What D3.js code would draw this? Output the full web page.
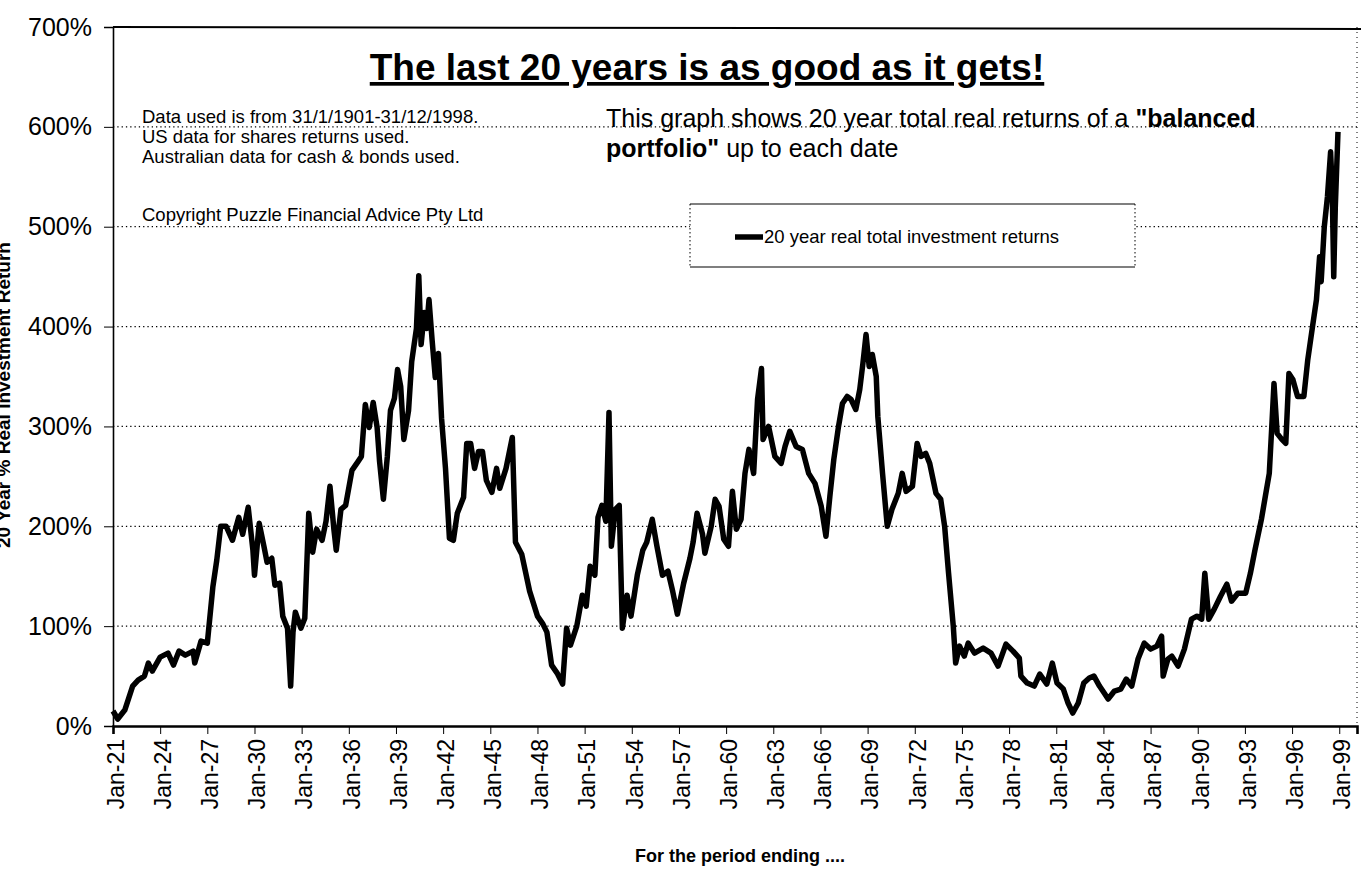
<!DOCTYPE html>
<html>
<head>
<meta charset="utf-8">
<title>The last 20 years is as good as it gets!</title>
<style>
  body { margin: 0; background: #fff; }
  svg { display: block; font-family: "Liberation Sans", Arial, sans-serif; }
  .grid line { stroke: #000; stroke-width: 1.3; stroke-dasharray: 1.3 3; }
</style>
</head>
<body>
<svg width="1361" height="874"></svg>
<script src="https://d3js.org/d3.v7.min.js"></script>
<script>
// period end (decimal year) and 20 year real total return (%)
const periodEnd = [
  1921.0, 1921.3, 1921.75, 1922.25, 1922.6, 1923.0, 1923.25, 1923.5, 1924.0, 1924.5,
  1924.85, 1925.2, 1925.6, 1926.1, 1926.2, 1926.6, 1927.0, 1927.35, 1927.6, 1927.85,
  1928.2, 1928.6, 1929.0, 1929.25, 1929.6, 1929.9, 1930.0, 1930.3, 1930.6, 1930.8,
  1931.1, 1931.3, 1931.6, 1931.8, 1932.1, 1932.3, 1932.45, 1932.6, 1932.95, 1933.2,
  1933.45, 1933.7, 1933.95, 1934.3, 1934.55, 1934.8, 1935.05, 1935.2, 1935.5, 1935.8,
  1936.2, 1936.55, 1936.8, 1937.05, 1937.3, 1937.55, 1937.8, 1937.95, 1938.2, 1938.45,
  1938.65, 1938.9, 1939.1, 1939.3, 1939.5, 1939.8, 1940.0, 1940.3, 1940.45, 1940.6,
  1940.8, 1940.95, 1941.1, 1941.3, 1941.5, 1941.7, 1941.9, 1942.15, 1942.4, 1942.65,
  1942.9, 1943.3, 1943.5, 1943.75, 1944.0, 1944.25, 1944.5, 1944.75, 1945.1, 1945.4,
  1945.6, 1946.0, 1946.4, 1946.6, 1947.0, 1947.5, 1948.0, 1948.35, 1948.6, 1948.9,
  1949.25, 1949.6, 1949.85, 1950.1, 1950.5, 1950.85, 1951.1, 1951.35, 1951.65, 1951.85,
  1952.1, 1952.35, 1952.55, 1952.7, 1952.95, 1953.2, 1953.4, 1953.7, 1953.95, 1954.35,
  1954.7, 1954.95, 1955.3, 1955.6, 1955.95, 1956.3, 1956.6, 1956.9, 1957.3, 1957.7,
  1957.9, 1958.15, 1958.5, 1958.65, 1959.05, 1959.3, 1959.55, 1959.85, 1960.15, 1960.4,
  1960.65, 1960.95, 1961.2, 1961.45, 1961.75, 1962.0, 1962.25, 1962.35, 1962.7, 1963.1,
  1963.5, 1963.75, 1964.05, 1964.45, 1964.85, 1965.25, 1965.65, 1966.05, 1966.35, 1966.6,
  1966.85, 1967.15, 1967.4, 1967.7, 1967.95, 1968.25, 1968.5, 1968.7, 1968.9, 1969.1,
  1969.3, 1969.55, 1969.65, 1969.95, 1970.25, 1970.55, 1970.95, 1971.2, 1971.45, 1971.85,
  1972.15, 1972.4, 1972.7, 1972.95, 1973.35, 1973.65, 1973.9, 1974.15, 1974.45, 1974.6,
  1974.85, 1975.15, 1975.4, 1975.8, 1976.35, 1976.85, 1977.3, 1977.8, 1978.25, 1978.65,
  1978.75, 1979.15, 1979.6, 1979.95, 1980.4, 1980.75, 1981.05, 1981.45, 1981.75, 1982.05,
  1982.4, 1982.75, 1983.1, 1983.4, 1983.75, 1984.05, 1984.3, 1984.7, 1985.1, 1985.45,
  1985.8, 1986.2, 1986.6, 1987.0, 1987.4, 1987.7, 1987.8, 1988.1, 1988.35, 1988.75,
  1989.15, 1989.6, 1989.95, 1990.25, 1990.45, 1990.7, 1991.05, 1991.45, 1991.85, 1992.15,
  1992.55, 1993.05, 1993.35, 1993.65, 1994.05, 1994.3, 1994.55, 1994.7, 1994.85, 1995.05,
  1995.35, 1995.6, 1995.8, 1996.05, 1996.35, 1996.75, 1997.0, 1997.3, 1997.55, 1997.75,
  1997.85, 1998.05, 1998.25, 1998.45, 1998.55, 1998.65, 1998.75, 1998.92
];
const realReturn = [
  15, 7, 16, 40, 46, 50, 63, 55, 69, 73,
  61, 75, 71, 75, 63, 85, 83, 139, 166, 200,
  200, 186, 209, 192, 219, 176, 151, 203, 180, 164,
  168, 141, 143, 110, 98, 40, 94, 114, 98, 108,
  213, 174, 197, 186, 205, 240, 197, 176, 217, 221,
  256, 264, 270, 322, 299, 324, 299, 266, 227, 270,
  316, 328, 357, 340, 287, 316, 365, 398, 451, 382,
  414, 398, 427, 386, 349, 373, 308, 258, 188, 186,
  213, 229, 283, 283, 258, 275, 275, 246, 234, 258,
  238, 258, 289, 184, 172, 135, 110, 102, 94, 61,
  53, 42, 98, 81, 100, 131, 120, 160, 151, 209,
  221, 205, 314, 180, 217, 221, 98, 131, 110, 151,
  176, 184, 207, 180, 151, 155, 135, 112, 143, 168,
  184, 213, 192, 173, 200, 227, 220, 187, 180, 235,
  197, 207, 253, 277, 253, 327, 358, 287, 300, 270,
  263, 280, 295, 280, 277, 253, 243, 220, 190, 230,
  267, 300, 323, 330, 327, 317, 337, 363, 392, 360,
  372, 350, 310, 253, 200, 217, 233, 253, 235, 240,
  283, 270, 273, 263, 233, 227, 200, 153, 100, 63,
  80, 70, 83, 73, 78, 73, 60, 82, 75, 68,
  50, 43, 40, 52, 42, 63, 43, 37, 23, 13,
  23, 43, 48, 50, 40, 33, 27, 35, 37, 47,
  40, 67, 83, 77, 80, 90, 50, 67, 70, 60,
  77, 107, 110, 107, 153, 107, 117, 130, 142, 125,
  133, 133, 153, 177, 207, 230, 253, 297, 343, 293,
  287, 283, 353, 347, 330, 330, 367, 400, 427, 470,
  445, 500, 530, 575, 540, 450, 520, 595
];
const xTickLabels = ["Jan-21", "Jan-24", "Jan-27", "Jan-30", "Jan-33", "Jan-36", "Jan-39",
  "Jan-42", "Jan-45", "Jan-48", "Jan-51", "Jan-54", "Jan-57", "Jan-60", "Jan-63", "Jan-66",
  "Jan-69", "Jan-72", "Jan-75", "Jan-78", "Jan-81", "Jan-84", "Jan-87", "Jan-90", "Jan-93",
  "Jan-96", "Jan-99"];
const yTicks = [0, 100, 200, 300, 400, 500, 600, 700];
const noteLines = ["Data used is from 31/1/1901-31/12/1998.", "US data for shares returns used.",
  "Australian data for cash & bonds used."];

const svg = d3.select("svg");
const m = { left: 113, right: 1357, top: 27, bottom: 726 };

const x = d3.scaleLinear().domain([1921, 2000.13]).range([m.left, m.right]);
const y = d3.scaleLinear().domain([0, 700]).range([m.bottom, m.top]);

const tickYear = s => 1900 + +s.slice(4);

// gridlines
svg.append("g").attr("class", "grid")
  .selectAll("line").data(yTicks.filter(d => d > 0 && d < 700)).join("line")
  .attr("x1", m.left).attr("x2", m.right)
  .attr("y1", d => y(d)).attr("y2", d => y(d));

// plot frame: dotted right edge, solid top
svg.append("line").attr("x1", m.right).attr("x2", m.right).attr("y1", m.top).attr("y2", m.bottom)
  .attr("stroke", "#000").attr("stroke-width", 1).attr("stroke-dasharray", "1 4");
svg.append("line").attr("x1", m.left).attr("x2", 1361).attr("y1", m.top).attr("y2", m.top + 2)
  .attr("stroke", "#000").attr("stroke-width", 2);

// y axis
const yAxis = svg.append("g").attr("transform", `translate(${m.left},0)`)
  .call(d3.axisLeft(y).tickValues(yTicks).tickSize(9).tickPadding(12).tickFormat(d => d + "%"));
yAxis.select(".domain").attr("stroke-width", 1.6);
yAxis.selectAll("text").attr("font-size", 25).attr("fill", "#000")
  .attr("font-family", "'Liberation Sans', Arial, sans-serif");

// x axis
const xAxis = svg.append("g").attr("transform", `translate(0,${m.bottom})`)
  .call(d3.axisBottom(x).tickValues(xTickLabels.map(tickYear)).tickSize(8)
    .tickFormat((d, i) => xTickLabels[i]));
xAxis.select(".domain").attr("stroke-width", 2.6);
xAxis.selectAll("text")
  .attr("font-size", 23).attr("fill", "#000")
  .attr("font-family", "'Liberation Sans', Arial, sans-serif")
  .attr("text-anchor", "end")
  .attr("transform", "translate(2,13) rotate(-90)")
  .attr("x", 0).attr("y", 0).attr("dy", "0.36em");

// the series
const line = d3.line().x((d, i) => x(periodEnd[i])).y(d => y(d)).curve(d3.curveLinear);
svg.append("path").datum(realReturn)
  .attr("d", line).attr("fill", "none").attr("stroke", "#000")
  .attr("stroke-width", 5.5).attr("stroke-linejoin", "round");

// title
svg.append("text").attr("x", 707).attr("y", 80).attr("text-anchor", "middle")
  .attr("font-size", 37).attr("font-weight", "bold")
  .attr("text-decoration", "underline")
  .text("The last 20 years is as good as it gets!");

// notes
svg.append("g").selectAll("text").data(noteLines).join("text")
  .attr("x", 142).attr("y", (d, i) => 123 + i * 20)
  .attr("font-size", 18.5).text(d => d);
svg.append("text").attr("x", 142).attr("y", 221).attr("font-size", 18.5)
  .text("Copyright Puzzle Financial Advice Pty Ltd");

const sub = svg.append("text").attr("x", 606).attr("y", 127).attr("font-size", 25);
sub.append("tspan").text("This graph shows 20 year total real returns of a ");
sub.append("tspan").attr("font-weight", "bold").text("\"balanced");
const sub2 = svg.append("text").attr("x", 606).attr("y", 157).attr("font-size", 25);
sub2.append("tspan").attr("font-weight", "bold").text("portfolio\"");
sub2.append("tspan").text(" up to each date");

// legend: solid top and bottom, dotted sides
const lg = { x: 690, y: 204, w: 445, h: 63 };
svg.append("rect").attr("x", lg.x).attr("y", lg.y).attr("width", lg.w).attr("height", lg.h)
  .attr("fill", "#fff");
svg.append("g").selectAll("line").data([lg.y, lg.y + lg.h]).join("line")
  .attr("x1", lg.x).attr("x2", lg.x + lg.w).attr("y1", d => d).attr("y2", d => d)
  .attr("stroke", "#000").attr("stroke-width", 1.2);
svg.append("g").selectAll("line").data([lg.x, lg.x + lg.w]).join("line")
  .attr("x1", d => d).attr("x2", d => d).attr("y1", lg.y).attr("y2", lg.y + lg.h)
  .attr("stroke", "#000").attr("stroke-width", 1).attr("stroke-dasharray", "1.5 2.5");
svg.append("line").attr("x1", 735).attr("x2", 763).attr("y1", 237).attr("y2", 237)
  .attr("stroke", "#000").attr("stroke-width", 5.5);
svg.append("text").attr("x", 764).attr("y", 243).attr("font-size", 18.5)
  .text("20 year real total investment returns");

// axis titles
svg.append("text").attr("transform", "translate(740,862)").attr("text-anchor", "middle")
  .attr("font-size", 18).attr("font-weight", "bold").text("For the period ending ....");
svg.append("text").attr("transform", "translate(10,395) rotate(-90)").attr("text-anchor", "middle")
  .attr("font-size", 19).attr("font-weight", "bold").text("20 Year % Real Investment Return");
</script>
</body>
</html>
